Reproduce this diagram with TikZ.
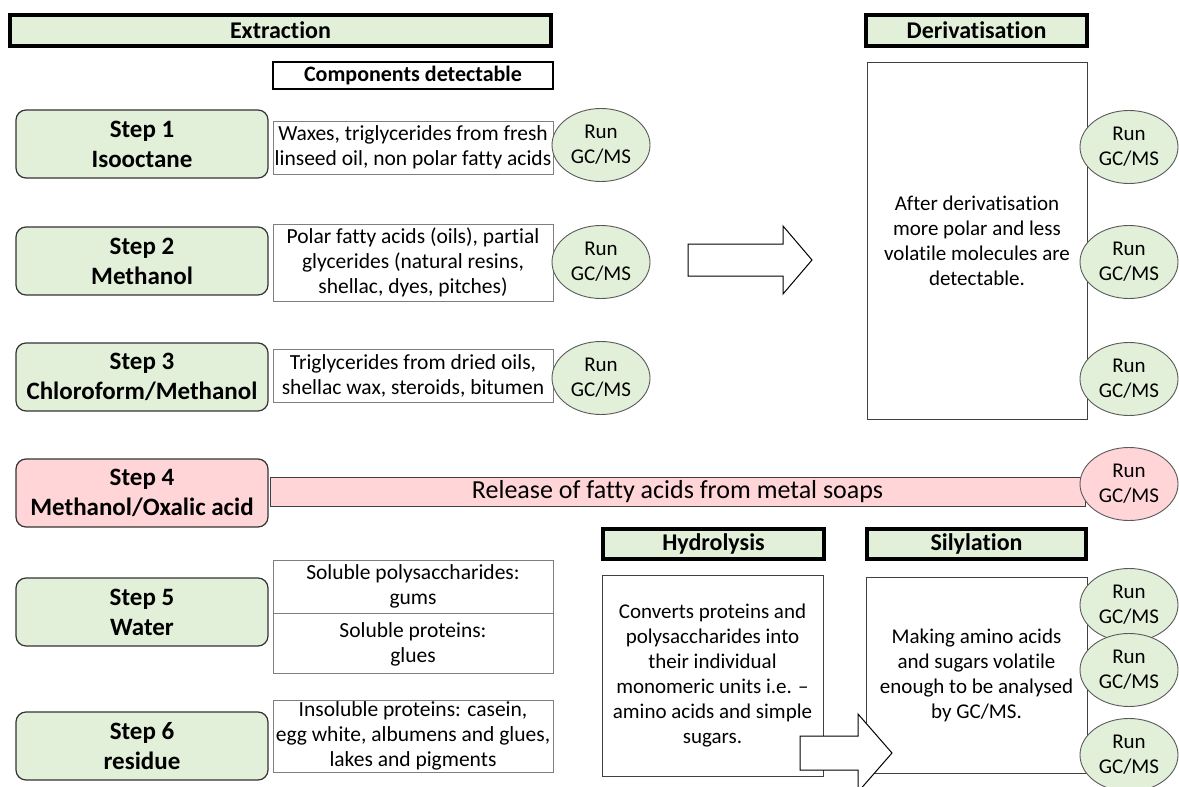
\documentclass[tikz,border=0pt]{standalone}
\usepackage{fontspec}
\setmainfont{Carlito}[Ligatures=NoCommon]
\usetikzlibrary{positioning, shapes.geometric}
\definecolor{palegreen}{HTML}{E2F0D9}
\definecolor{palepink}{HTML}{FFD5D8}
\definecolor{boxgrey}{HTML}{7F7F7F}

\begin{document}
\begin{tikzpicture}[x=1pt,y=-1pt]

  % --- styles ---
  \tikzset{
    % green header bars with a heavy black frame
    titlebar/.style={
      draw=black,
      line width=3.5pt,
      fill=palegreen,
      font=\fontsize{24}{28}\selectfont\bfseries,
      minimum height=31pt,
      inner sep=0pt
    },
    % rounded solvent boxes on the left
    stepbox/.style={
      draw=black!80,
      line width=1.2pt,
      fill=palegreen,
      rounded corners=10pt,
      minimum width=252pt,
      minimum height=68pt,
      align=center,
      font=\fontsize{25}{30}\selectfont\bfseries
    },
    % thin boxes listing what is detectable
    infobox/.style={
      draw=boxgrey,
      line width=0.9pt,
      fill=white,
      minimum width=280pt,
      align=center,
      inner sep=1pt,
      font=\fontsize{21.5}{25}\selectfont
    },
    % the "Run GC/MS" ellipses
    runbox/.style={
      ellipse,
      draw=black!65,
      line width=0.9pt,
      fill=palegreen,
      minimum width=98pt,
      minimum height=73pt,
      inner sep=0pt,
      align=center,
      font=\fontsize{21}{25}\selectfont
    },
    % big white text panels on the right
    textbox/.style={
      draw=black!75,
      line width=0.9pt,
      fill=white,
      align=center,
      inner sep=0pt,
      font=\fontsize{21}{25}\selectfont
    },
    blockarrow/.style={
      draw=black,
      line width=1pt,
      fill=white,
      line join=miter
    }
  }

  \useasboundingbox (0,0) rectangle (1179,787);

  % --- header bars ---
  \node[titlebar, minimum width=541pt] (extraction) at (280.5,30.5) {Extraction};
  \node[titlebar, minimum width=221pt] (deriv) at (976.5,30.5) {Derivatisation};
  \node[titlebar, minimum width=221pt, minimum height=30pt] (hydro) at (713.5,544) {Hydrolysis};
  \node[titlebar, minimum width=219pt, minimum height=30pt] (sily) at (976.5,544) {Silylation};

  \node[infobox, draw=black, line width=1.2pt, minimum height=27pt, font=\fontsize{22}{26}\selectfont\bfseries] (compdet) at (413,75.5) {Components detectable};

  % --- extraction steps ---
  \node[stepbox] (step1) at (142,144) {Step 1\\Isooctane};
  \node[stepbox] (step2) at (142,261) {Step 2\\Methanol};
  \node[stepbox] (step3) at (142,377) {Step 3\\Chloroform/Methanol};
  \node[stepbox, fill=palepink] (step4) at (142,493) {Step 4\\Methanol/Oxalic acid};
  \node[stepbox] (step5) at (142,612) {Step 5\\Water};
  \node[stepbox] (step6) at (142,746) {Step 6\\residue};

  % --- what each step picks up ---
  \node[infobox, minimum height=53pt] (comp1) at (413,147.5) {Waxes, triglycerides from fresh\\linseed oil, non polar fatty acids};
  \node[infobox, minimum height=77pt] (comp2) at (413,262.5) {Polar fatty acids (oils), partial\\glycerides (natural resins,\\shellac, dyes, pitches)};
  \node[infobox, minimum height=53pt] (comp3) at (413,375.5) {Triglycerides from dried oils,\\shellac wax, steroids, bitumen};
  \node[infobox, minimum height=53pt] (comp5a) at (413,586.5) {Soluble polysaccharides:\\gums};
  \node[infobox, below=0pt of comp5a, minimum height=60pt] (comp5b) {Soluble proteins:\\glues};
  \node[infobox, minimum height=72pt] (comp6) at (413,736) {Insoluble proteins: casein,\\egg white, albumens and glues,\\lakes and pigments};

  \node[infobox, draw=black!75, fill=palepink, minimum width=815pt, minimum height=29pt, font=\fontsize{26}{30}\selectfont] (release) at (677.5,491.5) {Release of fatty acids from metal soaps};

  % --- right hand panels ---
  \node[textbox, minimum width=220pt, minimum height=357pt] (derivbox) at (977,240.5) {After derivatisation\\more polar and less\\volatile molecules are\\detectable.};
  \node[textbox, minimum width=221pt, minimum height=201pt] (hydrobox) at (712.5,675.5) {Converts proteins and\\polysaccharides into\\their individual\\monomeric units i.e. --\\amino acids and simple\\sugars.};
  \node[textbox, minimum width=221pt, minimum height=196pt] (silybox) at (976.5,675) {Making amino acids\\and sugars volatile\\enough to be analysed\\by GC/MS.};

  % --- block arrows ---
  \draw[blockarrow] (688,244) -- (783,244) -- (783,226) -- (812,260)
    -- (783,294) -- (783,276) -- (688,276) -- cycle;
  \draw[blockarrow] (800,736) -- (858,736) -- (858,714) -- (892,753)
    -- (858,792) -- (858,770) -- (800,770) -- cycle;

  % --- GC/MS runs ---
  \node[runbox] (run1) at (601,145) {Run\\GC/MS};
  \node[runbox] (run2) at (601,262) {Run\\GC/MS};
  \node[runbox] (run3) at (601,378) {Run\\GC/MS};

  \node[runbox] (drun1) at (1129,147) {Run\\GC/MS};
  \node[runbox] (drun2) at (1129,262) {Run\\GC/MS};
  \node[runbox] (drun3) at (1129,379) {Run\\GC/MS};
  \node[runbox, fill=palepink] (drun4) at (1129,484) {Run\\GC/MS};

  \node[runbox] (srun1) at (1129,605) {Run\\GC/MS};
  \node[runbox] (srun2) at (1129,670) {Run\\GC/MS};
  \node[runbox] (srun3) at (1129,755) {Run\\GC/MS};

\end{tikzpicture}
\end{document}
